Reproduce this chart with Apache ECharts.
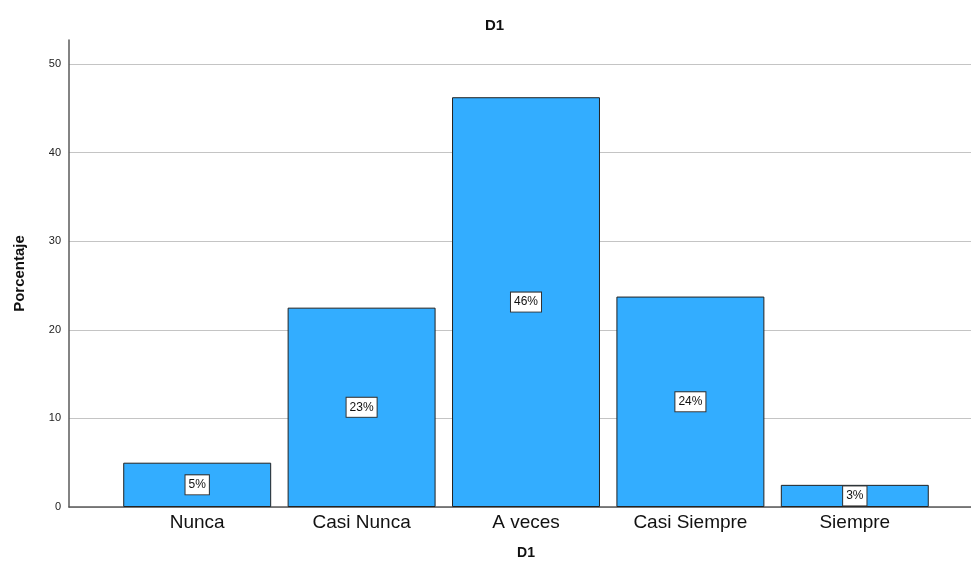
<!DOCTYPE html>
<html>
<head>
<meta charset="utf-8">
<script src="https://cdn.jsdelivr.net/npm/echarts@6/dist/echarts.min.js"></script>
<style>
  html, body { margin: 0; padding: 0; background: #fff; }
  #chart { width: 971px; height: 566px; }
</style>
</head>
<body>
<div id="chart"></div>
<script>
// Frequency distribution of D1 responses (percent of respondents)
const categories = ['Nunca', 'Casi Nunca', 'A veces', 'Casi Siempre', 'Siempre'];
const percentages = [5, 22.5, 46.25, 23.75, 2.5];
const yMin = 0;
const yMax = 50;
const yStep = 10;

const FONT = '"Liberation Sans", Arial, sans-serif';
const chart = echarts.init(document.getElementById('chart'), null, { renderer: 'canvas' });

chart.setOption({
  animation: false,
  backgroundColor: '#ffffff',
  title: {
    text: 'D1',
    left: 480,
    top: 13,
    textStyle: { fontFamily: FONT, fontSize: 15, fontWeight: 'bold', color: '#111' }
  },
  grid: [
    // frame: axis lines, slightly taller than the scale
    { left: 69, right: 0, top: 40, bottom: 59 },
    // scale labels and gridlines
    { left: 69, right: 0, top: 64, bottom: 59 },
    // bars
    { left: 115, right: 34, top: 64, bottom: 59 }
  ],
  xAxis: [
    {
      gridIndex: 0, type: 'value', min: 0, max: 1,
      axisLine: { show: true, lineStyle: { color: '#5a5a5a', width: 1.5 } },
      axisTick: { show: false }, axisLabel: { show: false }, splitLine: { show: false }
    },
    { gridIndex: 1, type: 'value', min: 0, max: 1, show: false },
    {
      gridIndex: 2, type: 'category', data: categories,
      axisLine: { show: false }, axisTick: { show: false },
      axisLabel: { fontFamily: FONT, fontSize: 19, color: '#111', margin: 6 },
      name: 'D1', nameLocation: 'middle', nameGap: 39,
      nameTextStyle: { fontFamily: FONT, fontSize: 14, fontWeight: 'bold', color: '#111' }
    }
  ],
  yAxis: [
    {
      gridIndex: 0, type: 'value', min: 0, max: 52.7,
      axisLine: { show: true, lineStyle: { color: '#5a5a5a', width: 1.5 } },
      axisTick: { show: false }, axisLabel: { show: false }, splitLine: { show: false },
      name: 'Porcentaje', nameLocation: 'middle', nameGap: 42, nameRotate: 90,
      nameTextStyle: { fontFamily: FONT, fontSize: 15, fontWeight: 'bold', color: '#111' }
    },
    {
      gridIndex: 1, type: 'value', min: yMin, max: yMax, interval: yStep,
      axisLine: { show: false }, axisTick: { show: false },
      axisLabel: { fontFamily: FONT, fontSize: 11, color: '#222', margin: 8 },
      splitLine: { show: true, lineStyle: { color: '#c4c4c4', width: 1 } }
    },
    { gridIndex: 2, type: 'value', min: yMin, max: yMax, show: false }
  ],
  series: [
    {
      type: 'bar',
      xAxisIndex: 2,
      yAxisIndex: 2,
      data: percentages,
      barCategoryGap: '10%',
      itemStyle: { color: '#33adff', borderColor: '#222', borderWidth: 1 },
      label: {
        show: true,
        position: 'inside',
        formatter: (p) => Math.round(p.value) + '%',
        fontFamily: FONT,
        fontSize: 12,
        color: '#111',
        backgroundColor: '#ffffff',
        borderColor: '#333',
        borderWidth: 1,
        padding: [4, 3, 3, 3]
      }
    }
  ]
});
</script>
</body>
</html>
